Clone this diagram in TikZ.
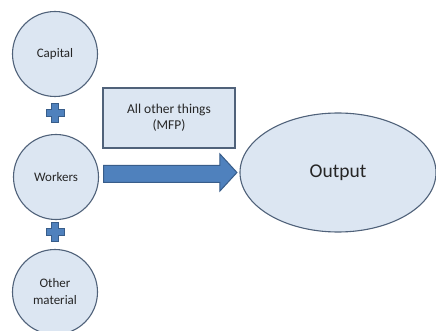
\documentclass[tikz,border=0pt]{standalone}
\usepackage{fontspec}
\setmainfont{Carlito}
\usetikzlibrary{calc,shapes.geometric}
\definecolor{lightfill}{RGB}{220,230,242}
\definecolor{edgeblue}{RGB}{80,98,122}
\definecolor{arrowfill}{RGB}{79,129,189}
\definecolor{arrowedge}{RGB}{56,93,138}
\definecolor{textgray}{RGB}{38,38,38}
\tikzset{
  inputcircle/.style={circle, draw=edgeblue, fill=lightfill, line width=1.1pt,
    minimum size=85pt, inner sep=0pt, align=center, text=textgray,
    font=\fontsize{13}{17}\selectfont},
  mfpbox/.style={rectangle, draw=edgeblue, fill=lightfill, line width=1.1pt,
    minimum width=132pt, minimum height=60pt, inner sep=0pt, align=center, text=textgray,
    font=\fontsize{13.5}{16}\selectfont},
  outellipse/.style={ellipse, draw=edgeblue, fill=lightfill, line width=1.1pt,
    minimum width=196pt, minimum height=119pt, inner sep=0pt, text=textgray,
    font=\fontsize{19.5}{22}\selectfont},
  bigarrow/.style={fill=arrowfill, draw=arrowedge, line width=1pt, line join=miter},
  plusshape/.style={fill=arrowfill, draw=arrowedge, line width=0.6pt}
}
\newcommand{\plusat}[1]{%
  \filldraw[plusshape] ($(#1)+(-3.5,-9.5)$) -- ($(#1)+(3.5,-9.5)$) -- ($(#1)+(3.5,-3.5)$)
   -- ($(#1)+(9,-3.5)$) -- ($(#1)+(9,3.5)$) -- ($(#1)+(3.5,3.5)$) -- ($(#1)+(3.5,9.5)$)
   -- ($(#1)+(-3.5,9.5)$) -- ($(#1)+(-3.5,3.5)$) -- ($(#1)+(-9,3.5)$) -- ($(#1)+(-9,-3.5)$)
   -- ($(#1)+(-3.5,-3.5)$) -- cycle;}
\begin{document}
\begin{tikzpicture}[x=1pt,y=-1pt]
\useasboundingbox (0,0) rectangle (436,331);
\clip (0,0) rectangle (436,331);
\fill[white] (0,0) rectangle (436,331);
\node[inputcircle] (capital) at (55,54) {Capital};
\node[inputcircle] (workers) at (56,177) {Workers};
\node[inputcircle] (other) at (55,292) {Other\\material};
\coordinate (plusA) at (55,113);
\coordinate (plusB) at (55,232);
\plusat{plusA}
\plusat{plusB}
\node[mfpbox] (mfp) at (169,118) {All other things\\(MFP)};
\node[outellipse] (output) at (338,172.5) {Output};
\coordinate (astart) at ($(workers.east)+(4.5,-3)$);
\coordinate (atip) at ($(output.west)+(-2.5,0)$);
\draw[bigarrow] ($(astart)+(0,-8.5)$) -- ($(atip |- astart)+(-17,-8.5)$)
  -- ($(atip)+(-17,-18.5)$) -- (atip) -- ($(atip)+(-17,18.5)$)
  -- ($(atip |- astart)+(-17,8.5)$) -- ($(astart)+(0,8.5)$) -- cycle;
\end{tikzpicture}
\end{document}
